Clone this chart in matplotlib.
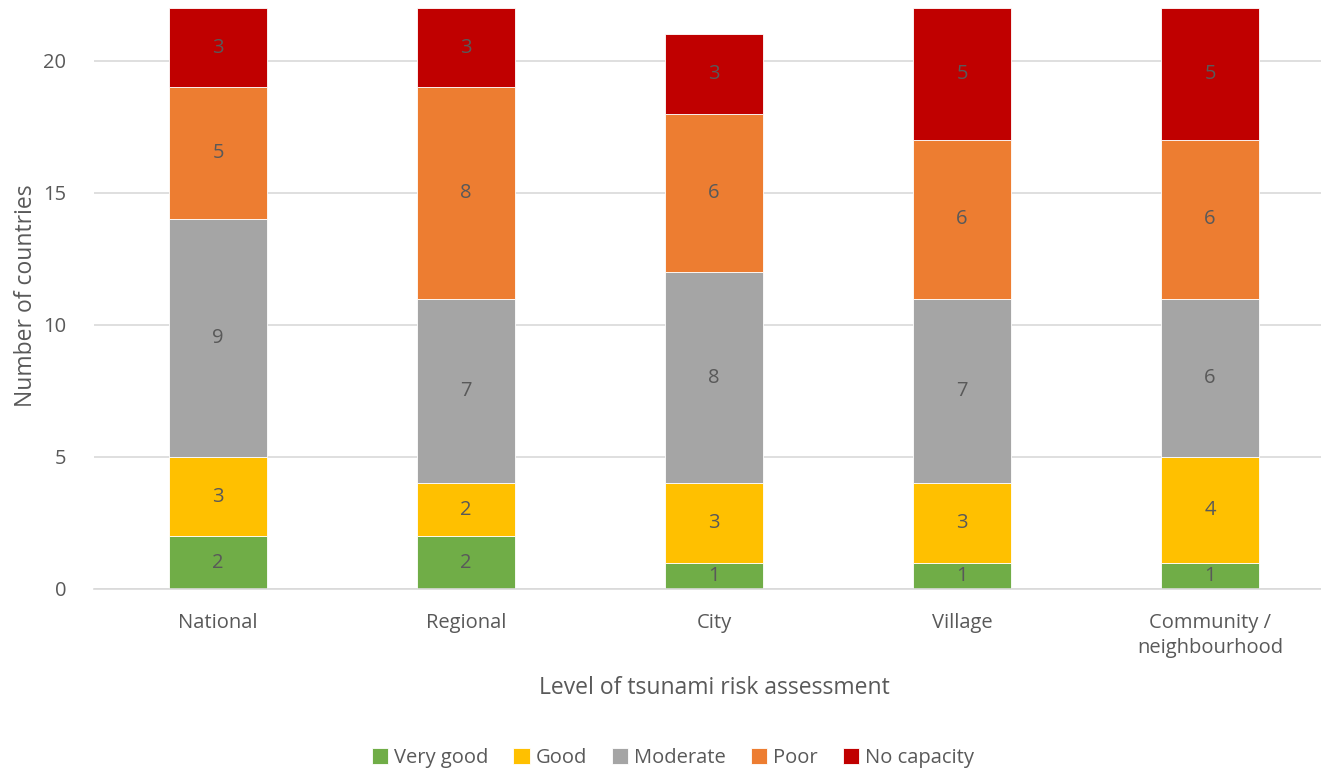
import numpy as np
import matplotlib.pyplot as plt

plt.rcParams['font.family'] = ['Open Sans', 'DejaVu Sans']

categories = ['National', 'Regional', 'City', 'Village', 'Community /\nneighbourhood']
series_names = ['Very good', 'Good', 'Moderate', 'Poor', 'No capacity']
very_good = [2, 2, 1, 1, 1]
good = [3, 2, 3, 3, 4]
moderate = [9, 7, 8, 7, 6]
poor = [5, 8, 6, 6, 6]
no_capacity = [3, 3, 3, 5, 5]
colors = ['#70AD47', '#FFC000', '#A5A5A5', '#ED7D31', '#C00000']

txt = '#595959'
fig = plt.figure(figsize=(13.21, 7.74), dpi=100)
ax = fig.add_axes([94 / 1321, 185 / 774, 1240 / 1321, 581 / 774])

x = np.arange(len(categories))
bottom = np.zeros(len(categories))
for name, vals, c in zip(series_names, [very_good, good, moderate, poor, no_capacity], colors):
    vals = np.array(vals)
    ax.bar(x, vals, 0.395, bottom=bottom, color=c, label=name,
           edgecolor='white', linewidth=0.6, zorder=2)
    for xi, b, v in zip(x, bottom, vals):
        ax.text(xi, b + v / 2, str(v), ha='center', va='center', color=txt, fontsize=14.5, zorder=3)
    bottom += vals

ax.set_xlim(-0.5, 4.5)
ax.set_ylim(0, 22)
ax.set_yticks([0, 5, 10, 15, 20])
ax.yaxis.grid(True, color='#D9D9D9', linewidth=1.2, zorder=0)
ax.set_axisbelow(True)
for s in ['top', 'right', 'left']:
    ax.spines[s].set_visible(False)
ax.spines['bottom'].set_color('#D9D9D9')
ax.spines['bottom'].set_linewidth(1.2)
ax.tick_params(axis='both', length=0, colors=txt, labelsize=14.5)
ax.tick_params(axis='y', pad=20)
ax.tick_params(axis='x', pad=17)
ax.set_xticks(x)
ax.set_xticklabels(categories, linespacing=1.35)

fig.text(0.0195, (774 - 296) / 774, 'Number of countries', rotation=90, ha='center', va='center',
         color=txt, fontsize=16.5)
fig.text(714 / 1321, (774 - 688) / 774, 'Level of tsunami risk assessment', ha='center', va='center',
         color=txt, fontsize=16.5)

fig.legend(loc='center', bbox_to_anchor=(673 / 1321, (774 - 758) / 774), ncol=5, frameon=False,
           fontsize=14.5, labelcolor=txt, handlelength=0.8, handleheight=0.8, handletextpad=0.3,
           columnspacing=1.25)

fig.savefig('out.png', dpi=100)
